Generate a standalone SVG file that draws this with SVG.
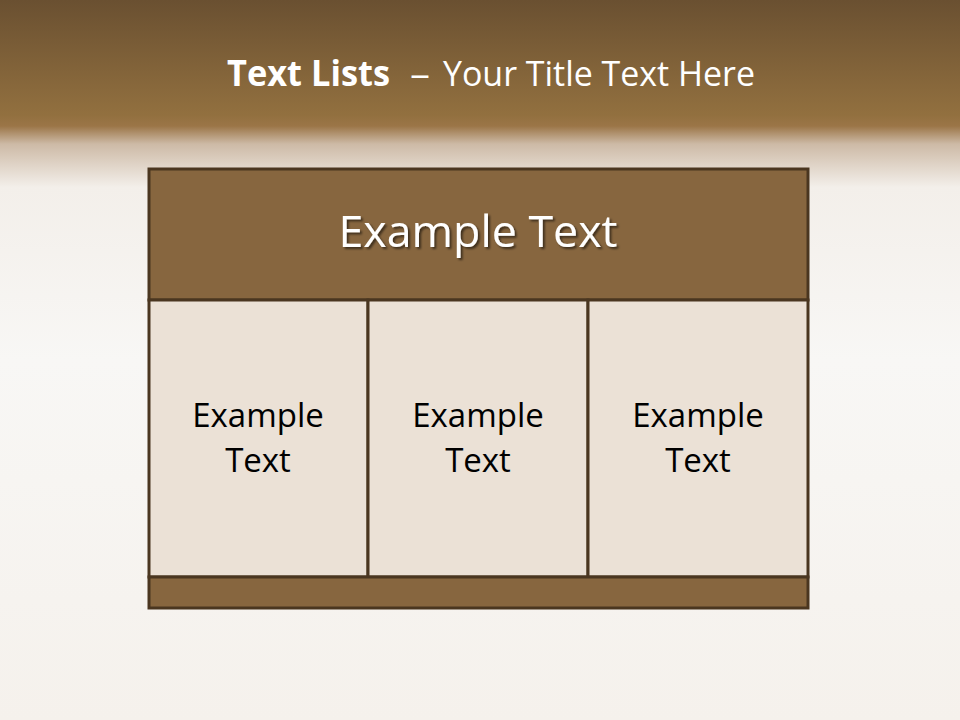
<svg xmlns="http://www.w3.org/2000/svg" width="960" height="720" viewBox="0 0 960 720">
<defs>
<linearGradient id="bg" x1="0" y1="0" x2="0" y2="1">
<stop offset="0" stop-color="#6a5031"/>
<stop offset="0.16" stop-color="#92703f"/>
<stop offset="0.175" stop-color="#9b7547"/>
<stop offset="0.2" stop-color="#cdbaa6"/>
<stop offset="0.26" stop-color="#f3efea"/>
<stop offset="0.5" stop-color="#f8f7f5"/>
<stop offset="1" stop-color="#f5f1ec"/>
</linearGradient>
<filter id="sh" x="-10%" y="-30%" width="120%" height="160%">
<feDropShadow dx="2" dy="2" stdDeviation="1.2" flood-color="#000" flood-opacity="0.55"/>
</filter>
<style>
.t{font-family:"Open Sans","DejaVu Sans",sans-serif;}
.box{stroke:#4a3620;stroke-width:3;}
.dark{fill:#87663f;}
.light{fill:#ebe1d6;}
.cell{font-size:33px;fill:#000;text-anchor:middle;}
</style>
</defs>
<rect width="960" height="720" fill="url(#bg)"/>
<g id="title">
<text class="t" y="86" font-size="35" fill="#fff"><tspan x="227" font-weight="bold" textLength="163" lengthAdjust="spacingAndGlyphs">Text Lists</tspan><tspan x="410" textLength="20" lengthAdjust="spacingAndGlyphs">–</tspan><tspan x="443" textLength="312" lengthAdjust="spacingAndGlyphs">Your Title Text Here</tspan></text>
</g>
<g id="header">
<rect class="box dark" x="149" y="169" width="659" height="131"/>
<text class="t" x="478" y="247" font-size="44" fill="#fff" text-anchor="middle" filter="url(#sh)" textLength="279" lengthAdjust="spacingAndGlyphs">Example Text</text>
</g>
<g id="cell1">
<rect class="box light" x="149" y="300" width="219" height="277"/>
<text class="t cell" x="258" y="427">Example</text>
<text class="t cell" x="258" y="472">Text</text>
</g>
<g id="cell2">
<rect class="box light" x="368" y="300" width="220" height="277"/>
<text class="t cell" x="478" y="427">Example</text>
<text class="t cell" x="478" y="472">Text</text>
</g>
<g id="cell3">
<rect class="box light" x="588" y="300" width="220" height="277"/>
<text class="t cell" x="698" y="427">Example</text>
<text class="t cell" x="698" y="472">Text</text>
</g>
<g id="footer">
<rect class="box dark" x="149" y="577" width="659" height="31"/>
</g>
<g id="connectors"/>
</svg>
